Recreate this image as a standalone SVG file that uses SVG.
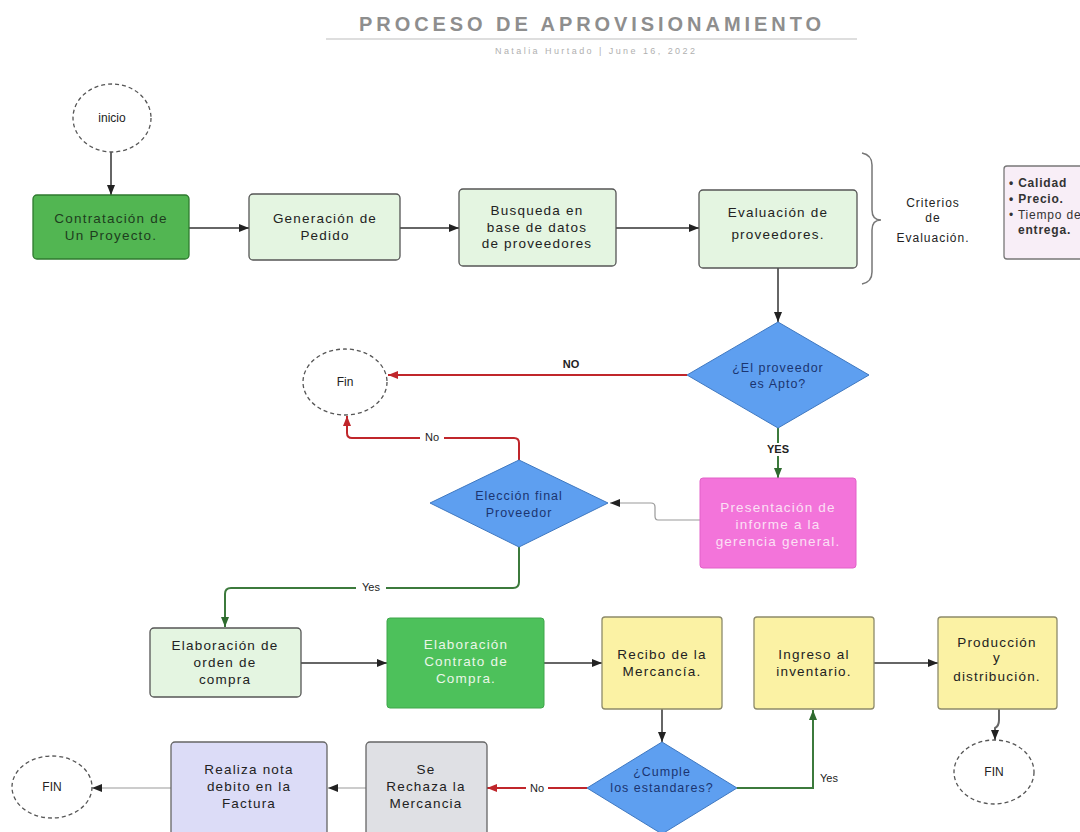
<svg xmlns="http://www.w3.org/2000/svg" width="1080" height="832" viewBox="0 0 1080 832">
  <defs>
    <marker id="ah" viewBox="0 0 10 8" refX="10" refY="4" markerWidth="10" markerHeight="8" markerUnits="userSpaceOnUse" orient="auto">
      <path d="M0,0 L10,4 L0,8 z" fill="#222"/>
    </marker>
    <marker id="ah-red" viewBox="0 0 10 8" refX="10" refY="4" markerWidth="10" markerHeight="8" markerUnits="userSpaceOnUse" orient="auto">
      <path d="M0,0 L10,4 L0,8 z" fill="#c0262b"/>
    </marker>
    <marker id="ah-green" viewBox="0 0 10 8" refX="10" refY="4" markerWidth="10" markerHeight="8" markerUnits="userSpaceOnUse" orient="auto">
      <path d="M0,0 L10,4 L0,8 z" fill="#2f6b2f"/>
    </marker>
  </defs>
  <style>
    text { font-family: "Liberation Sans", Arial, sans-serif; }
    .t { font-size: 13.5px; letter-spacing: 1.2px; text-anchor: middle; fill: #222; }
    .tw { font-size: 13.5px; letter-spacing: 1.2px; text-anchor: middle; fill: #eaf6e8; }
    .tp { font-size: 13.5px; letter-spacing: 1.2px; text-anchor: middle; fill: #fbe0f5; }
    .td { font-size: 12.5px; letter-spacing: 1px; text-anchor: middle; fill: #1b3570; }
    .lbl { font-size: 11px; text-anchor: middle; fill: #222; }
    .lblb { font-size: 11px; font-weight: bold; text-anchor: middle; fill: #222; }
    .term { fill: #fff; stroke: #555; stroke-width: 1.3; stroke-dasharray: 4 3; }
    .lg { fill: #e4f5e1; stroke: #555; stroke-width: 1.3; }
    .dg { fill: #52b652; stroke: #2f7a2f; stroke-width: 1.3; }
    .bg { fill: #4dc15b; stroke: #3fa64b; stroke-width: 1; }
    .yl { fill: #fbf2a4; stroke: #8d8a6a; stroke-width: 1.3; }
    .dia { fill: #5e9ff0; stroke: #3f78c0; stroke-width: 1; }
    .ln { fill: none; stroke: #666; stroke-width: 2; }
    .thin { fill: none; stroke: #999; stroke-width: 1.2; }
    .red { fill: none; stroke: #c0262b; stroke-width: 2; }
    .grn { fill: none; stroke: #3c7a3c; stroke-width: 2; }
    .lblbg { fill: #fff; }
  </style>

  <!-- heading -->
  <g id="heading">
    <text x="590" y="31" textLength="462" lengthAdjust="spacing" style="font-size:20px;font-weight:bold;fill:#8e8e8e;text-anchor:middle">PROCESO DE APROVISIONAMIENTO</text>
    <line x1="326" y1="39" x2="857" y2="39" stroke="#bdbdbd" stroke-width="1.2"/>
    <text x="595" y="54" textLength="200" lengthAdjust="spacing" style="font-size:9px;fill:#b0b0b0;text-anchor:middle">Natalia Hurtado  |  June 16, 2022</text>
  </g>

  <!-- connectors -->
  <g id="connectors">
    <path class="ln" d="M111,152 V195" marker-end="url(#ah)"/>
    <path class="ln" d="M189,228 H249" marker-end="url(#ah)"/>
    <path class="ln" d="M400,228 H459" marker-end="url(#ah)"/>
    <path class="ln" d="M616,228 H699" marker-end="url(#ah)"/>
    <path class="ln" d="M778,268 V322" marker-end="url(#ah)"/>
    <!-- NO: not suitable -->
    <path class="red" d="M687,375 H388" marker-end="url(#ah-red)"/>
    <text class="lblb" x="571" y="368">NO</text>
    <!-- YES: suitable -->
    <path class="grn" d="M778,428 V478" marker-end="url(#ah-green)"/>
    <rect class="lblbg" x="762" y="443" width="32" height="13"/>
    <text class="lblb" x="778" y="453">YES</text>
    <!-- report to final choice -->
    <path class="thin" d="M700,520 H658 Q655,520 655,516 V507 Q655,503 651,503 H610" marker-end="url(#ah)"/>
    <!-- final choice: No -->
    <path class="red" d="M519,460 V443 Q519,438 514,438 H352 Q347,438 347,433 V416" marker-end="url(#ah-red)"/>
    <rect class="lblbg" x="420" y="431" width="24" height="13"/>
    <text class="lbl" x="432" y="441">No</text>
    <!-- final choice: Yes -->
    <path class="grn" d="M519,547 V582 Q519,588 513,588 H231 Q225,588 225,594 V627" marker-end="url(#ah-green)"/>
    <rect class="lblbg" x="356" y="581" width="30" height="13"/>
    <text class="lbl" x="371" y="591">Yes</text>
    <!-- purchasing chain -->
    <path class="ln" d="M301,663 H387" marker-end="url(#ah)"/>
    <path class="ln" d="M544,663 H602" marker-end="url(#ah)"/>
    <path class="ln" d="M662,709 V742" marker-end="url(#ah)"/>
    <path class="grn" d="M737,788 H813 V710" marker-end="url(#ah-green)"/>
    <text class="lbl" x="829" y="782">Yes</text>
    <path class="ln" d="M874,663 H938" marker-end="url(#ah)"/>
    <path class="ln" d="M999,709 V720 Q999,726 995,728 V740" marker-end="url(#ah)"/>
    <!-- standards not met -->
    <path class="red" d="M587,788 H487" marker-end="url(#ah-red)"/>
    <rect class="lblbg" x="526" y="781" width="22" height="13"/>
    <text class="lbl" x="537" y="792">No</text>
    <path class="thin" d="M366,788 H328" marker-end="url(#ah)"/>
    <path class="thin" d="M171,788 H92" marker-end="url(#ah)"/>
  </g>

  <!-- start -->
  <g id="inicio">
    <ellipse class="term" cx="112" cy="118" rx="39" ry="34"/>
    <text class="lbl" x="112" y="122" style="font-size:12px">inicio</text>
  </g>

  <g id="contratacion">
    <rect class="dg" x="33" y="195" width="156" height="64" rx="4"/>
    <text class="t" x="111" y="223" style="fill:#1e3d1e">Contratación de</text>
    <text class="t" x="111" y="240" style="fill:#1e3d1e">Un Proyecto.</text>
  </g>

  <g id="generacion">
    <rect class="lg" x="249" y="194" width="151" height="66" rx="4"/>
    <text class="t" x="325" y="223">Generación de</text>
    <text class="t" x="325" y="240">Pedido</text>
  </g>

  <g id="busqueda">
    <rect class="lg" x="459" y="189" width="157" height="77" rx="4"/>
    <text class="t" x="537" y="215">Busqueda en</text>
    <text class="t" x="537" y="232">base de datos</text>
    <text class="t" x="537" y="248">de proveedores</text>
  </g>

  <g id="evaluacion">
    <rect class="lg" x="699" y="190" width="158" height="78" rx="4"/>
    <text class="t" x="778" y="217">Evaluación de</text>
    <text class="t" x="778" y="239">proveedores.</text>
  </g>

  <g id="criterios">
    <path d="M862,153 Q872,155 872,165 V210 Q872,220 881,220 Q872,220 872,230 V272 Q872,282 862,284" fill="none" stroke="#777" stroke-width="1.5"/>
    <text class="t" x="933" y="207" style="font-size:12px;letter-spacing:1px">Criterios</text>
    <text class="t" x="933" y="222" style="font-size:12px;letter-spacing:1px">de</text>
    <text class="t" x="933" y="242" style="font-size:12px;letter-spacing:1px">Evaluación.</text>
  </g>

  <g id="lista-criterios">
    <rect x="1004" y="166" width="110" height="93" rx="3" fill="#f8eef7" stroke="#777" stroke-width="1.3"/>
    <text x="1009" y="187" style="font-size:12px;font-weight:bold;fill:#333;letter-spacing:0.8px">• Calidad</text>
    <text x="1009" y="203" style="font-size:12px;font-weight:bold;fill:#333;letter-spacing:0.8px">• Precio.</text>
    <text x="1009" y="219" style="font-size:12px;fill:#333;letter-spacing:0.8px">• Tiempo de</text>
    <text x="1018" y="234" style="font-size:12px;font-weight:bold;fill:#333;letter-spacing:0.8px">entrega.</text>
  </g>

  <g id="apto">
    <polygon class="dia" points="778,322 869,375 778,428 687,375"/>
    <text class="td" x="778" y="372">¿El proveedor</text>
    <text class="td" x="778" y="388">es Apto?</text>
  </g>

  <g id="fin-1">
    <ellipse class="term" cx="345" cy="382" rx="42" ry="33"/>
    <text class="lbl" x="345" y="386" style="font-size:12px">Fin</text>
  </g>

  <g id="presentacion">
    <rect x="700" y="478" width="156" height="90" rx="3" fill="#f374da" stroke="#e260c8" stroke-width="1"/>
    <text class="tp" x="778" y="512">Presentación de</text>
    <text class="tp" x="778" y="529">informe a la</text>
    <text class="tp" x="778" y="546">gerencia general.</text>
  </g>

  <g id="eleccion">
    <polygon class="dia" points="519,460 608,503 519,547 430,503"/>
    <text class="td" x="519" y="500">Elección final</text>
    <text class="td" x="519" y="517">Proveedor</text>
  </g>

  <g id="orden-compra">
    <rect class="lg" x="150" y="628" width="151" height="69" rx="4"/>
    <text class="t" x="225" y="650">Elaboración de</text>
    <text class="t" x="225" y="667">orden de</text>
    <text class="t" x="225" y="684">compra</text>
  </g>

  <g id="contrato-compra">
    <rect class="bg" x="387" y="618" width="157" height="90" rx="3"/>
    <text class="tw" x="466" y="649">Elaboración</text>
    <text class="tw" x="466" y="666">Contrato de</text>
    <text class="tw" x="466" y="683">Compra.</text>
  </g>

  <g id="recibo">
    <rect class="yl" x="602" y="617" width="120" height="92" rx="3"/>
    <text class="t" x="662" y="659">Recibo de la</text>
    <text class="t" x="662" y="676">Mercancía.</text>
  </g>

  <g id="ingreso">
    <rect class="yl" x="754" y="617" width="120" height="92" rx="3"/>
    <text class="t" x="814" y="659">Ingreso al</text>
    <text class="t" x="814" y="676">inventario.</text>
  </g>

  <g id="produccion">
    <rect class="yl" x="938" y="617" width="119" height="92" rx="3"/>
    <text class="t" x="997" y="647">Producción</text>
    <text class="t" x="997" y="662">y</text>
    <text class="t" x="997" y="681">distribución.</text>
  </g>

  <g id="fin-2">
    <ellipse class="term" cx="994" cy="772" rx="40" ry="32"/>
    <text class="lbl" x="994" y="776" style="font-size:12px">FIN</text>
  </g>

  <g id="cumple">
    <polygon class="dia" points="662,742 737,788 662,834 587,788"/>
    <text class="td" x="662" y="776">¿Cumple</text>
    <text class="td" x="662" y="792">los estandares?</text>
  </g>

  <g id="rechaza">
    <rect x="366" y="742" width="121" height="96" rx="4" fill="#dfe0e4" stroke="#666" stroke-width="1.3"/>
    <text class="t" x="426" y="774">Se</text>
    <text class="t" x="426" y="791">Rechaza la</text>
    <text class="t" x="426" y="808">Mercancia</text>
  </g>

  <g id="nota-debito">
    <rect x="171" y="742" width="156" height="96" rx="4" fill="#dcdcf7" stroke="#666" stroke-width="1.3"/>
    <text class="t" x="249" y="774">Realiza nota</text>
    <text class="t" x="249" y="791">debito en la</text>
    <text class="t" x="249" y="808">Factura</text>
  </g>

  <g id="fin-3">
    <ellipse class="term" cx="52" cy="787" rx="40" ry="31"/>
    <text class="lbl" x="52" y="791" style="font-size:12px">FIN</text>
  </g>
</svg>
